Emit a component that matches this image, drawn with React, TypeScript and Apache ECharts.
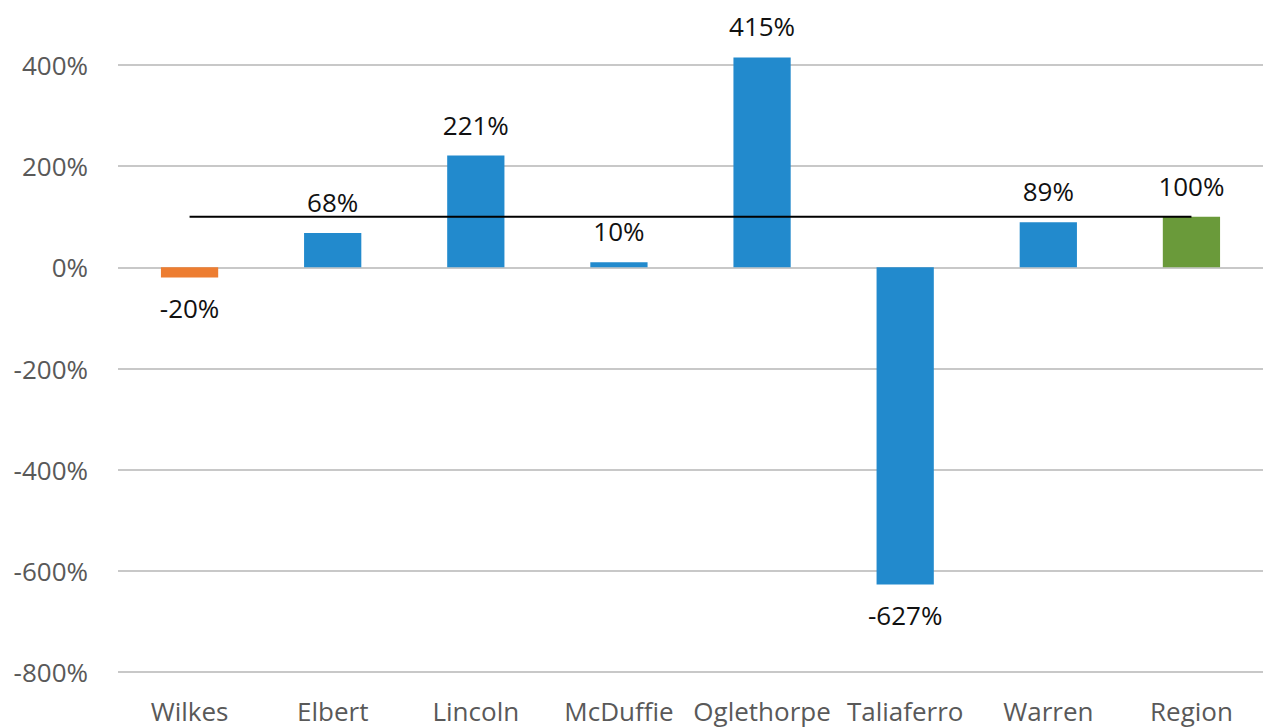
import React, { useEffect, useRef } from "react";
import * as echarts from "echarts";

const categories = ["Wilkes", "Elbert", "Lincoln", "McDuffie", "Oglethorpe", "Taliaferro", "Warren", "Region"];
const values = [-20, 68, 221, 10, 415, -627, 89, 100];
const barColors = ["#ED7D31", "#228ACD", "#228ACD", "#228ACD", "#228ACD", "#228ACD", "#228ACD", "#6A9A3A"];
const referenceLine = [100, 100, 100, 100, 100, 100, 100, 100];
const yTicks = { min: -800, max: 400, interval: 200 };

const FONT = "'Open Sans', sans-serif";

export default function App() {
  const ref = useRef<HTMLDivElement>(null);
  useEffect(() => {
    if (!ref.current) return;
    const chart = echarts.init(ref.current, null, { renderer: "svg" });
    chart.setOption({
      animation: false,
      backgroundColor: "#ffffff",
      grid: { left: 118, top: 65, width: 1147, height: 607, containLabel: false },
      xAxis: {
        type: "category",
        data: categories,
        axisLine: { show: false, onZero: false },
        axisTick: { show: false },
        axisLabel: { color: "#595959", fontSize: 26, fontFamily: FONT, margin: 26, interval: 0 },
      },
      yAxis: {
        type: "value",
        min: yTicks.min,
        max: yTicks.max,
        interval: yTicks.interval,
        axisLine: { show: false },
        axisTick: { show: false },
        splitLine: { lineStyle: { color: "#c8c8c8", width: 2 } },
        axisLabel: {
          color: "#595959",
          fontSize: 26,
          fontFamily: FONT,
          margin: 30,
          formatter: (v: number) => `${v}%`,
        },
      },
      series: [
        {
          type: "bar",
          barWidth: "40%",
          clip: false,
          data: values.map((v, i) => ({
            value: v,
            itemStyle: { color: barColors[i] },
            label: { position: v < 0 ? "bottom" : "top" },
          })),
          label: {
            show: true,
            color: "#111111",
            fontSize: 26,
            fontFamily: FONT,
            distance: 18,
            formatter: (p: any) => `${p.value}%`,
          },
          z: 2,
        },
        {
          type: "line",
          data: referenceLine,
          symbol: "none",
          lineStyle: { color: "#000000", width: 2 },
          z: 3,
        },
      ],
    });
    return () => chart.dispose();
  }, []);
  return (
    <div
      ref={ref}
      style={{ position: "fixed", left: 0, top: 0, width: 1263, height: 728 }}
    />
  );
}
